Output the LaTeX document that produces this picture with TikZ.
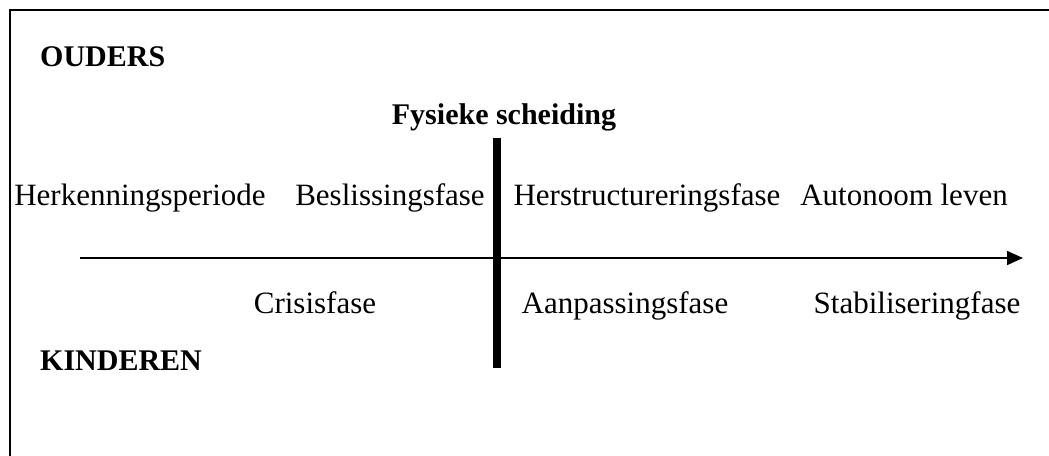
\documentclass[tikz,border=0pt]{standalone}
\usepackage{fontspec}
\setmainfont{Liberation Serif}
\usetikzlibrary{arrows.meta}
\begin{document}
\begin{tikzpicture}[x=1pt,y=-1pt,
  lbl/.style={inner sep=0pt,anchor=base,font=\fontsize{31}{36}\selectfont},
  blbl/.style={inner sep=0pt,font=\fontsize{30}{36}\selectfont\bfseries}]
\useasboundingbox (0,0) rectangle (1049,455);
\fill[white] (0,0) rectangle (1049,455);
\coordinate (tl) at (10,10);
\coordinate (tr) at (1052,10);
\coordinate (bl) at (10,458);
\draw[line width=2pt] (tr) -- (tl) -- (bl);
\node[blbl,anchor=base west] (ouders) at (40,66) {OUDERS};
\node[blbl,anchor=base] (fysiek) at (504,124) {Fysieke scheiding};
\node[lbl] (herk) at (140,205) {Herkenningsperiode};
\node[lbl] (besl) at (390,205) {Beslissingsfase};
\node[lbl] (herst) at (647,205) {Herstructureringsfase};
\node[lbl] (auto) at (904,205) {Autonoom leven};
\coordinate (as) at (80,258);
\coordinate (ae) at (1023,258);
\draw[line width=1.6pt,-{Triangle[length=16pt,width=14pt]}] (as) -- (ae);
\coordinate (vt) at (497,138);
\coordinate (vb) at (497,368);
\draw[line width=8pt] (vt) -- (vb);
\node[lbl] (cris) at (315,313) {Crisisfase};
\node[lbl] (aanp) at (625,313) {Aanpassingsfase};
\node[lbl] (stab) at (917,313) {Stabiliseringfase};
\node[blbl,anchor=base west] (kind) at (40,370) {KINDEREN};
\end{tikzpicture}
\end{document}
